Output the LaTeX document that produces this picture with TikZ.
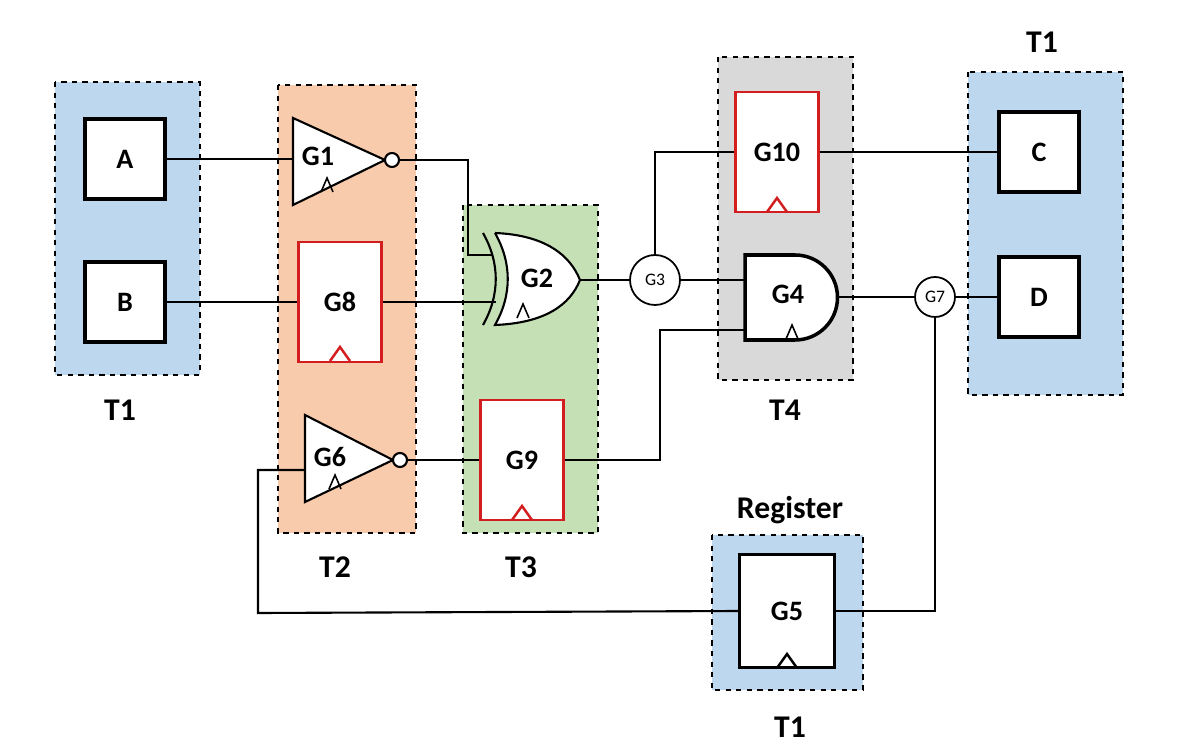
\documentclass[tikz,border=0pt]{standalone}
\usepackage{fontspec}
\setmainfont{Carlito}
\usetikzlibrary{positioning}

\definecolor{tblue}{RGB}{189,215,238}
\definecolor{torange}{RGB}{248,203,173}
\definecolor{tgreen}{RGB}{197,224,180}
\definecolor{tgray}{RGB}{217,217,217}
\definecolor{ffred}{RGB}{210,30,30}

\begin{document}
\begin{tikzpicture}[x=0.02cm,y=-0.02cm,line width=1.2pt,
    font=\fontsize{16}{18}\selectfont\bfseries]

    \tikzstyle{tile}=[draw=black,dashed,line width=0.8pt]
    \tikzstyle{port}=[draw=black,line width=2pt,fill=white,minimum width=1.6cm,minimum height=1.6cm]
    \tikzstyle{ff}=[draw=ffred,line width=1.6pt,fill=white,minimum width=1.65cm,minimum height=2.4cm]
    \tikzstyle{net}=[circle,draw=black,fill=white,line width=1pt,inner sep=0pt,font=\fontsize{10}{11}\selectfont]
    \tikzstyle{lbl}=[font=\fontsize{18}{20}\selectfont\bfseries]

    \useasboundingbox (0,0) rectangle (1196,756);

    % tiles
    \fill[tblue]   (55,82) rectangle (200,375);
    \draw[tile]    (55,82) rectangle (200,375);
    \fill[torange] (278,85) rectangle (416,533);
    \draw[tile]    (278,85) rectangle (416,533);
    \fill[tgreen]  (463,205) rectangle (598,533);
    \draw[tile]    (463,205) rectangle (598,533);
    \fill[tgray]   (718,57) rectangle (853,380);
    \draw[tile]    (718,57) rectangle (853,380);
    \fill[tblue]   (968,72) rectangle (1123,395);
    \draw[tile]    (968,72) rectangle (1123,395);
    \fill[tblue]   (712,535) rectangle (863,690);
    \draw[tile]    (712,535) rectangle (863,690);

    \node[lbl] (t1a) at (120,410) {T1};
    \node[lbl] (t2)  at (335,567) {T2};
    \node[lbl] (t3)  at (521,567) {T3};
    \node[lbl] (t4)  at (785,410) {T4};
    \node[lbl] (t1b) at (1042,42) {T1};
    \node[lbl] (reg) at (790,510) {Register};
    \node[lbl] (t1c) at (790,727) {T1};

    % ports
    \node[port] (A) at (125,159) {A};
    \node[port] (B) at (125,302) {B};
    \node[port] (C) at (1039,152) {C};
    \node[port] (D) at (1039,297) {D};

    % flip-flops
    \node[ff] (G8)  at (340,302) {G8};
    \node[ff] (G9)  at (522,460) {G9};
    \node[ff] (G10) at (777,152) {G10};
    \node[port,draw=black,line width=1.4pt,minimum width=1.9cm,minimum height=2.26cm] (G5) at (787,611) {G5};
    \foreach \x/\y/\c in {340/361/ffred,522/520/ffred,777/212/ffred,787/668/black}
        \draw[\c,line width=1.4pt] (\x-10,\y) -- (\x,\y-14) -- (\x+10,\y);

    % inverters
    \draw[fill=white] (293,118) -- (385,160) -- (293,205) -- cycle;
    \draw[fill=white] (392,160) circle (7);
    \node (G1) at (318,156) {G1};
    \draw[line width=0.9pt] (321,192) -- (327,178) -- (333,192);
    \draw[fill=white] (305,415) -- (393,460) -- (305,502) -- cycle;
    \draw[fill=white] (400,460) circle (7);
    \node (G6) at (330,457) {G6};
    \draw[line width=0.9pt] (329,489) -- (335,475) -- (341,489);

    % xor
    \draw[fill=white] (495,233) .. controls (545,235) and (570,255) .. (580,280)
        .. controls (570,305) and (545,323) .. (495,325)
        .. controls (512,295) and (512,263) .. (495,233);
    \draw (483,233) .. controls (500,263) and (500,295) .. (483,325);
    \node (G2) at (537,278) {G2};
    \draw[line width=0.9pt] (517,318) -- (523,304) -- (529,318);

    % and
    \draw[line width=2pt,fill=white] (745,255) -- (795,255) arc (-90:90:42.5) -- (745,340) -- cycle;
    \node (G4) at (788,294) {G4};
    \draw[line width=0.9pt] (786,339) -- (792,325) -- (798,339);

    % nets
    \node[net,minimum size=1cm] (G3) at (655,280) {G3};
    \node[net,minimum size=0.8cm] (G7) at (935,297) {G7};
    \coordinate (g2out) at (580,280);
    \coordinate (g4out) at (837,297);

    % wires
    \draw (A.east) -- (293,159);
    \draw (399,160) -- (468,160) |- (492,255);
    \draw (B.east) -- (G8.west);
    \draw (G8.east) -- (496,302);
    \draw (g2out) -- (G3.west);
    \draw (G3.east) -- (745,280);
    \draw (G3.north) |- (G10.west);
    \draw (G10.east) -- (C.west);
    \draw (407,460) -- (G9.west);
    \draw (G9.east) -- (660,460) |- (745,330);
    \draw (g4out) -- (G7.west);
    \draw (G7.east) -- (D.west);
    \draw (G7.south) |- (G5.east);
    \draw (G5.west) -- (258,613) |- (305,470);
\end{tikzpicture}
\end{document}
